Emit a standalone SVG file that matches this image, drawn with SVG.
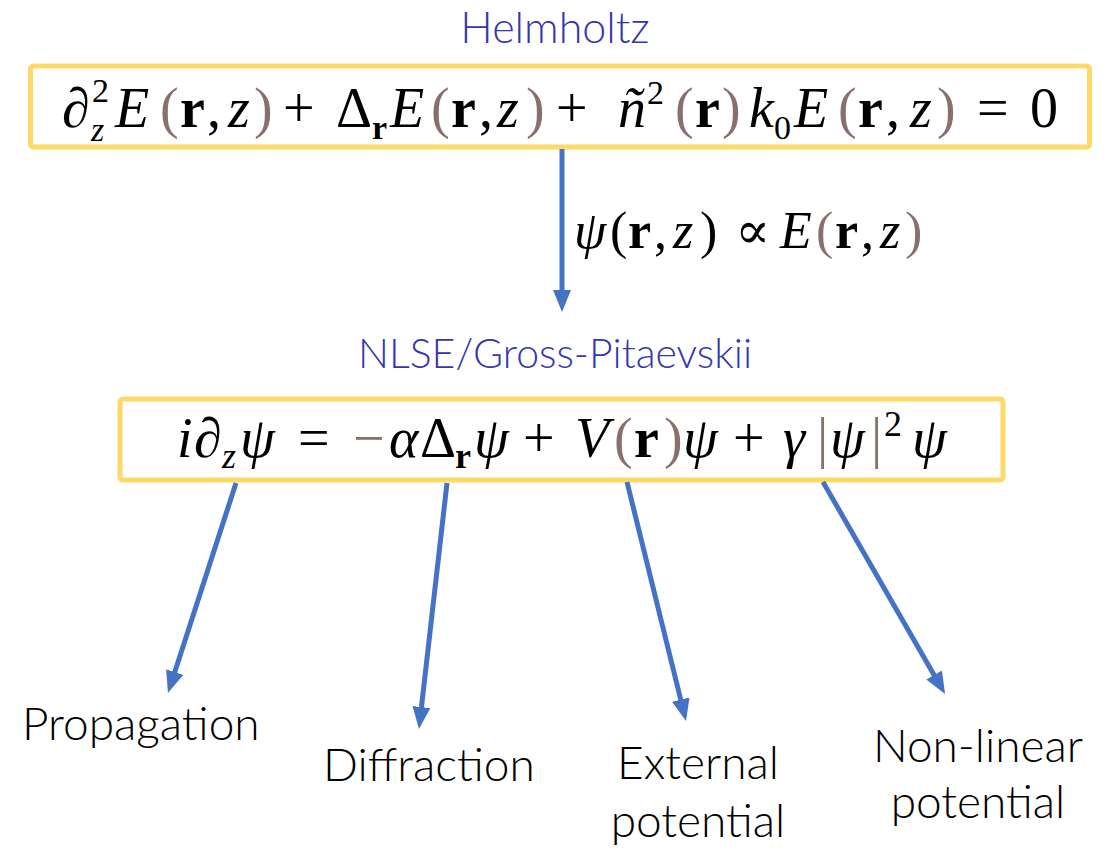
<svg xmlns="http://www.w3.org/2000/svg" width="1107" height="851" viewBox="0 0 1107 851">
<style>
.box{fill:#fff;stroke:#FFD966;stroke-width:5}
.m{font-family:"Liberation Serif","DejaVu Serif",serif;font-style:italic;fill:#000}
.u{font-style:normal}
.b{font-style:normal;font-weight:bold}
.br{fill:#8A706B;font-style:normal}
.ttl{font-family:Lato,"Open Sans",sans-serif;font-weight:300;fill:#3535B0}
.lbl{font-family:Lato,"Open Sans",sans-serif;font-weight:300;fill:#000;font-size:46px}
.arr{stroke:#4472C4;stroke-width:5;fill:none;marker-end:url(#ah)}
</style>
<defs>
<marker id="ah" markerUnits="userSpaceOnUse" markerWidth="22" markerHeight="18" viewBox="0 0 22 18" refX="4" refY="9" orient="auto">
<path d="M0,0 L22,9 L0,18 z" fill="#4472C4"/>
</marker>
</defs>
<rect width="1107" height="851" fill="#fff"/>

<g id="helmholtz">
<text class="ttl" x="555" y="43" font-size="43" text-anchor="middle">Helmholtz</text>
<rect class="box" x="30.5" y="66" width="1059" height="81" rx="3"/>
<text class="m" font-size="56">
<tspan x="62" y="127" class="u">∂</tspan>
<tspan x="115" y="127">E</tspan>
<tspan x="160" y="127" class="br">(</tspan>
<tspan x="180" y="127" class="b">r</tspan>
<tspan x="207" y="127" class="u">,</tspan>
<tspan x="228" y="127">z</tspan>
<tspan x="254" y="127" class="br">)</tspan>
<tspan x="283" y="127" class="u">+</tspan>
<tspan x="336" y="127" class="u">Δ</tspan>
<tspan x="390" y="127">E</tspan>
<tspan x="431" y="127" class="br">(</tspan>
<tspan x="451" y="127" class="b">r</tspan>
<tspan x="479" y="127" class="u">,</tspan>
<tspan x="497" y="127">z</tspan>
<tspan x="526" y="127" class="br">)</tspan>
<tspan x="556" y="127" class="u">+</tspan>
<tspan x="618" y="127">ñ</tspan>
<tspan x="675" y="127" class="br">(</tspan>
<tspan x="695" y="127" class="b">r</tspan>
<tspan x="722" y="127" class="br">)</tspan>
<tspan x="749" y="127">k</tspan>
<tspan x="794" y="127">E</tspan>
<tspan x="838" y="127" class="br">(</tspan>
<tspan x="858" y="127" class="b">r</tspan>
<tspan x="886" y="127" class="u">,</tspan>
<tspan x="910" y="127">z</tspan>
<tspan x="937" y="127" class="br">)</tspan>
<tspan x="977" y="127" class="u">=</tspan>
<tspan x="1030" y="127" class="u">0</tspan>
</text>
<text class="m" font-size="34">
<tspan x="92" y="102" class="u">2</tspan>
<tspan x="91" y="141">z</tspan>
<tspan x="372" y="139" class="b">r</tspan>
<tspan x="647" y="104" class="u">2</tspan>
<tspan x="774" y="139" class="u">0</tspan>
</text>
</g>

<g id="substitution">
<text class="m" font-size="52">
<tspan x="574" y="248">ψ</tspan>
<tspan x="610" y="248" class="u">(</tspan>
<tspan x="628" y="248" class="b">r</tspan>
<tspan x="654" y="248" class="u">,</tspan>
<tspan x="673" y="248">z</tspan>
<tspan x="700" y="248" class="u">)</tspan>
<tspan x="735" y="248" class="u">∝</tspan>
<tspan x="780" y="248">E</tspan>
<tspan x="816" y="248" class="br">(</tspan>
<tspan x="835" y="248" class="b">r</tspan>
<tspan x="861" y="248" class="u">,</tspan>
<tspan x="880" y="248">z</tspan>
<tspan x="905" y="248" class="br">)</tspan>
</text>
</g>

<g id="nlse">
<text class="ttl" x="555" y="368" font-size="41" text-anchor="middle">NLSE/Gross-Pitaevskii</text>
<rect class="box" x="120" y="399" width="883" height="81" rx="3"/>
<text class="m" font-size="56">
<tspan x="177" y="457">i</tspan>
<tspan x="194" y="457" class="u">∂</tspan>
<tspan x="240" y="457">ψ</tspan>
<tspan x="298" y="457" class="u">=</tspan>
<tspan x="353" y="457" class="br">−</tspan>
<tspan x="389" y="457">α</tspan>
<tspan x="420" y="457" class="u">Δ</tspan>
<tspan x="474" y="457">ψ</tspan>
<tspan x="523" y="457" class="u">+</tspan>
<tspan x="575" y="457">V</tspan>
<tspan x="614" y="457" class="br">(</tspan>
<tspan x="634" y="457" class="b">r</tspan>
<tspan x="664" y="457" class="br">)</tspan>
<tspan x="683" y="457">ψ</tspan>
<tspan x="733" y="457" class="u">+</tspan>
<tspan x="783" y="457">γ</tspan>
<tspan x="817" y="457" class="br">|</tspan>
<tspan x="830" y="457">ψ</tspan>
<tspan x="871" y="457" class="br">|</tspan>
<tspan x="912" y="457">ψ</tspan>
</text>
<text class="m" font-size="36">
<tspan x="222" y="468">z</tspan>
<tspan x="455" y="468" class="b">r</tspan>
<tspan x="884" y="436" class="u">2</tspan>
</text>
</g>

<g id="connectors">
<line class="arr" x1="562" y1="149" x2="562" y2="294"/>
<line class="arr" x1="236" y1="483" x2="173.5" y2="675.9"/>
<line class="arr" x1="447" y1="483" x2="421" y2="711.1"/>
<line class="arr" x1="627" y1="482" x2="681.7" y2="703.5"/>
<line class="arr" x1="823" y1="482" x2="936.1" y2="678.4"/>
</g>

<g id="propagation"><text class="lbl" x="22" y="740">Propagation</text></g>
<g id="diffraction"><text class="lbl" x="323" y="781">Diffraction</text></g>
<g id="external"><text class="lbl" text-anchor="middle" x="698"><tspan x="698" y="779">External</tspan><tspan x="698" y="837">potential</tspan></text></g>
<g id="nonlinear"><text class="lbl" text-anchor="middle" x="978"><tspan x="978" y="762">Non-linear</tspan><tspan x="978" y="818">potential</tspan></text></g>
</svg>
